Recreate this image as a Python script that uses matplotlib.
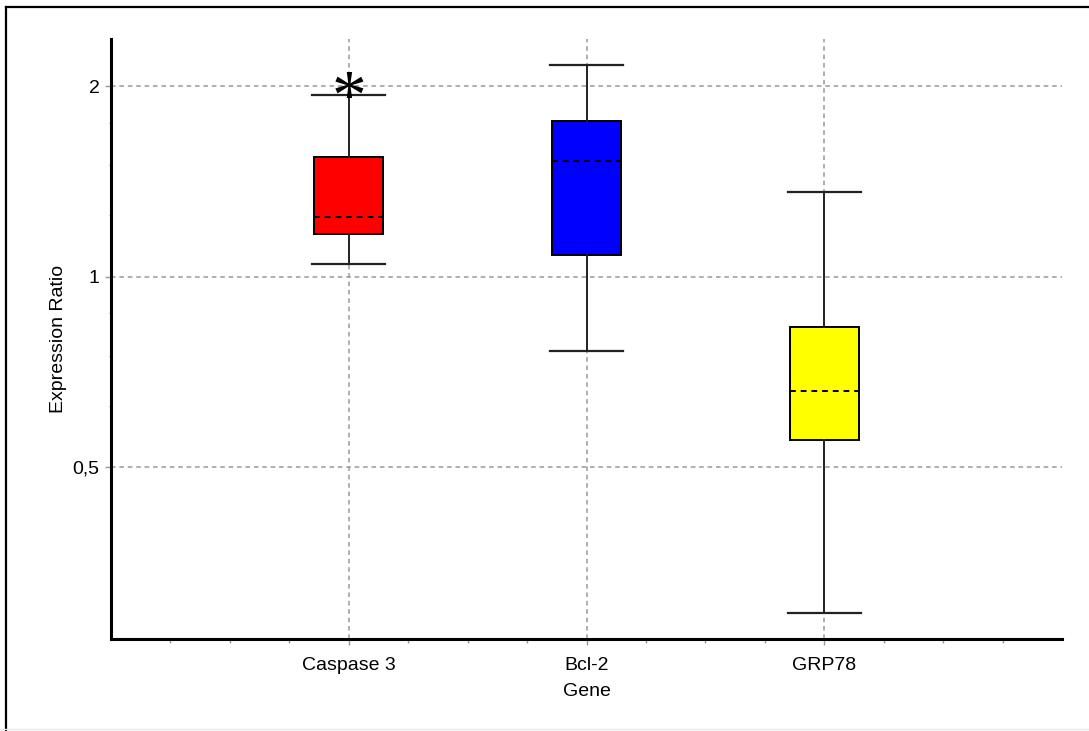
"""
Box plot of relative gene expression ratios (REST-style output).
"""
import matplotlib
matplotlib.use("Agg")
import matplotlib.pyplot as plt
from matplotlib.lines import Line2D

plt.rcParams["font.family"] = ["Liberation Sans", "DejaVu Sans"]

# --- data ------------------------------------------------------------------
genes = ["Caspase 3", "Bcl-2", "GRP78"]
q1 = [1.168, 1.082, 0.552]
medians = [1.243, 1.524, 0.659]
q3 = [1.546, 1.763, 0.833]
whis_lo = [1.047, 0.763, 0.294]
whis_hi = [1.938, 2.162, 1.361]
box_colors = ["#ff0000", "#0000ff", "#ffff00"]

y_major = [0.5, 1, 2]
y_major_labels = ["0,5", "1", "2"]
y_minor = [0.625, 0.75, 0.875, 1.25, 1.5, 1.75]
significant = ["Caspase 3"]


def main():
    fig = plt.figure(figsize=(10.89, 7.31), dpi=100)
    ax = fig.add_axes([111 / 1089, 1 - 639 / 731, (1062 - 111) / 1089, (639 - 39) / 731])

    positions = list(range(1, len(genes) + 1))
    stats = []
    for i, g in enumerate(genes):
        stats.append(dict(label=g, q1=q1[i], med=medians[i], q3=q3[i],
                          whislo=whis_lo[i], whishi=whis_hi[i], fliers=[]))

    bp = ax.bxp(stats, positions=positions, widths=0.29, capwidths=0.305,
                patch_artist=True, showfliers=False,
                boxprops=dict(edgecolor="black", linewidth=1.4),
                whiskerprops=dict(color="#222222", linewidth=1.4),
                capprops=dict(color="#222222", linewidth=1.6),
                medianprops=dict(color="black", linewidth=1.4, linestyle=(0, (3, 2.5))))
    for patch, c in zip(bp["boxes"], box_colors):
        patch.set_facecolor(c)

    ax.set_yscale("log", base=2)
    ax.set_ylim(0.267, 2.377)
    ax.set_xlim(0, 4)

    ax.set_yticks(y_major)
    ax.set_yticklabels(y_major_labels)
    ax.set_yticks(y_minor, minor=True)
    ax.yaxis.set_minor_formatter(plt.NullFormatter())
    ax.set_xticks(positions)
    ax.set_xticklabels(genes)
    ax.set_xticks([p / 4 for p in range(1, 16) if p % 4], minor=True)

    ax.grid(True, which="major", color="#999999", linestyle=(0, (3, 2.5)), linewidth=1.1)
    ax.set_axisbelow(True)

    for side in ("top", "right"):
        ax.spines[side].set_visible(False)
    for side in ("left", "bottom"):
        ax.spines[side].set_linewidth(2.2)
        ax.spines[side].set_color("black")

    ax.tick_params(axis="both", which="major", length=4.3, width=1, color="#999999",
                   labelsize=14, labelcolor="black")
    ax.tick_params(axis="x", which="major", pad=9)
    ax.tick_params(axis="y", which="major", pad=4)
    ax.tick_params(axis="x", which="minor", length=3, width=1, color="#999999")
    ax.tick_params(axis="y", which="minor", length=1.6, width=1, color="#999999")

    ax.set_xlabel("Gene", fontsize=14, labelpad=6)
    ax.set_ylabel("Expression Ratio", fontsize=14, labelpad=4)

    # significance marker sitting on the upper whisker
    for g in significant:
        i = genes.index(g)
        ax.annotate("*", xy=(positions[i], whis_hi[i]), xytext=(0, -4.6),
                    textcoords="offset points", ha="center", va="center",
                    fontsize=50, family="Liberation Serif", color="black")

    # window frame around the plot (left/top dark, bottom light)
    fig.add_artist(Line2D([6 / 1089, 6 / 1089], [0, 1 - 7 / 731],
                          transform=fig.transFigure, color="black", linewidth=1.6))
    fig.add_artist(Line2D([6 / 1089, 1], [1 - 7 / 731, 1 - 7 / 731],
                          transform=fig.transFigure, color="black", linewidth=1.6))
    fig.add_artist(Line2D([0, 1], [2 / 731, 2 / 731],
                          transform=fig.transFigure, color="#e6e6e6", linewidth=1))

    fig.savefig("out.png", dpi=100)
    plt.close(fig)


if __name__ == "__main__":
    main()
